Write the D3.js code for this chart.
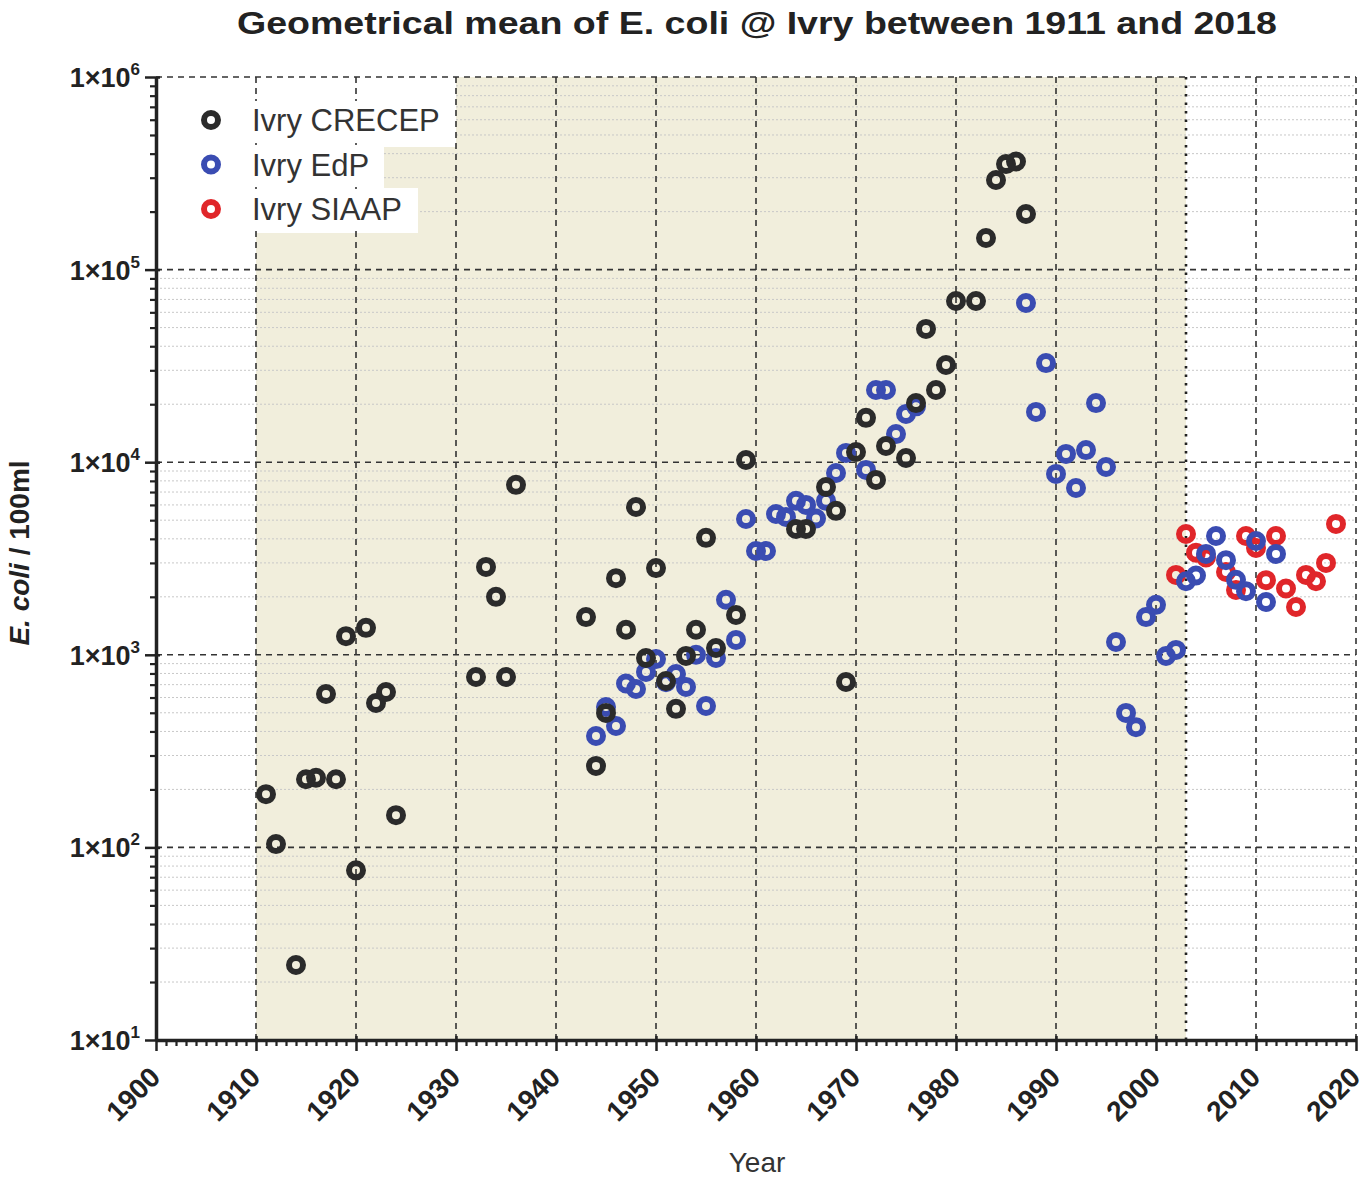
<!DOCTYPE html>
<html>
<head>
<meta charset="utf-8">
<script src="https://cdn.jsdelivr.net/npm/d3@7"></script>
<style>
  body { margin: 0; background: #fff; }
  svg { font-family: "Liberation Sans", Arial, sans-serif; }
</style>
</head>
<body>
<svg id="chart" width="1370" height="1183"></svg>
<script>

// CRECEP series
var crecepYears = [1911,1912,1914,1915,1916,1917,1918,1919,1920,1921,1922,1923,1924,
  1932,1933,1934,1935,1936,1943,1944,1945,1946,1947,1948,1949,1950,1951,1952,1953,1954,
  1955,1956,1958,1959,1964,1965,1967,1968,1969,1970,1971,1972,1973,1975,1976,1977,1978,
  1979,1980,1982,1983,1984,1985,1986,1987];
var crecepValues = [189,104,24.5,226,230,626,226,1250,76,1380,562,641,147,
  767,2860,2000,767,7630,1570,265,499,2500,1350,5850,962,2820,731,524,987,1350,
  4050,1084,1610,10260,4500,4500,7430,5590,722,11300,16990,8090,12130,10510,20270,49200,23700,
  31980,68700,68700,145900,291800,353000,364000,194500];

// EdP series
var edpYears = [1944,1945,1946,1947,1948,1949,1950,1951,1952,1953,1954,1955,1956,1957,1958,
  1959,1960,1961,1962,1963,1964,1965,1966,1967,1968,1969,1971,1972,1973,1974,1975,1976,
  1987,1988,1989,1990,1991,1992,1993,1994,1995,1996,1997,1998,1999,2000,2001,2002,
  2003,2004,2005,2006,2007,2008,2009,2010,2011,2012];
var edpValues = [379,535,427,710,664,815,950,720,795,681,1000,542,962,1930,1195,
  5070,3460,3460,5380,5200,6300,6000,5100,6300,8790,11170,9120,23700,23700,14000,17800,19500,
  67100,18240,32700,8690,11040,7350,11560,20270,9440,1165,499,421,1570,1817,986,1060,
  2410,2580,3340,4140,3100,2450,2140,3900,1880,3340];

// SIAAP series
var siaapYears = [2002,2003,2004,2005,2007,2008,2009,2010,2011,2012,2013,2014,2015,2016,2017,2018];
var siaapValues = [2600,4240,3390,3200,2690,2170,4140,3590,2440,4140,2210,1770,2600,2410,3000,4780];

var xTicks = [1900,1910,1920,1930,1940,1950,1960,1970,1980,1990,2000,2010,2020];
var yTicks = [1e1,1e2,1e3,1e4,1e5,1e6];
var yExponents = [1,2,3,4,5,6];

var seriesNames = ['Ivry CRECEP', 'Ivry EdP', 'Ivry SIAAP'];
var colors = ['#2b2b2b', '#3a4cb2', '#e0262a'];

var margin = {top: 77, right: 14, bottom: 143, left: 156};
var width = 1370 - margin.left - margin.right;
var height = 1183 - margin.top - margin.bottom;

var svg = d3.select('#chart');
var g = svg.append('g').attr('transform', 'translate(' + margin.left + ',' + margin.top + ')');

var x = d3.scaleLinear().domain([1900, 2020]).range([0, width]);
var y = d3.scaleLog().domain([10, 1e6]).range([height, 0]);

// shaded period
g.append('rect')
  .attr('x', x(1910))
  .attr('y', 0)
  .attr('width', x(2003) - x(1910))
  .attr('height', height)
  .attr('fill', '#f1eedc');

// minor horizontal grid
var minorY = [];
for (var e = 1; e < 6; e++)
  for (var m = 2; m <= 9; m++) minorY.push(m * Math.pow(10, e));

g.append('g')
  .selectAll('line')
  .data(minorY)
  .enter()
  .append('line')
  .attr('x1', 0)
  .attr('x2', width)
  .attr('y1', d => y(d))
  .attr('y2', d => y(d))
  .attr('stroke', '#c8c8c8')
  .attr('stroke-width', 1)
  .attr('stroke-dasharray', '2,2');

// legend backgrounds (over shading, under grid)
var legendBg = [
  {x0: 0, x1: 300, y0: 0, y1: 70},
  {x0: 0, x1: 228, y0: 70, y1: 111},
  {x0: 0, x1: 262, y0: 111, y1: 156}
];
g.append('g')
  .selectAll('rect')
  .data(legendBg)
  .enter()
  .append('rect')
  .attr('x', d => d.x0)
  .attr('y', d => d.y0)
  .attr('width', d => d.x1 - d.x0)
  .attr('height', d => d.y1 - d.y0)
  .attr('fill', '#fff');

// major grid
g.append('g')
  .selectAll('line')
  .data(xTicks.slice(1))
  .enter()
  .append('line')
  .attr('x1', d => x(d))
  .attr('x2', d => x(d))
  .attr('y1', 0)
  .attr('y2', height)
  .attr('stroke', '#333')
  .attr('stroke-width', 1.6)
  .attr('stroke-dasharray', '6,5');

g.append('g')
  .selectAll('line')
  .data(yTicks.slice(1))
  .enter()
  .append('line')
  .attr('x1', 0)
  .attr('x2', width)
  .attr('y1', d => y(d))
  .attr('y2', d => y(d))
  .attr('stroke', '#333')
  .attr('stroke-width', 1.6)
  .attr('stroke-dasharray', '6,5');

// 2003 boundary
g.append('line')
  .attr('x1', x(2003))
  .attr('x2', x(2003))
  .attr('y1', 0)
  .attr('y2', height)
  .attr('stroke', '#222')
  .attr('stroke-width', 2.6)
  .attr('stroke-dasharray', '2.5,6');

// legend items
var legend = g.append('g');
seriesNames.forEach((name, i) => {
  legend.append('rect')
    .attr('x', 88)
    .attr('y', 24 + i * 44)
    .attr('width', i == 0 ? 205 : (i == 1 ? 135 : 170))
    .attr('height', 40)
    .attr('fill', '#fff');
  legend.append('circle')
    .attr('cx', 55)
    .attr('cy', 43 + i * 44.5)
    .attr('r', 7)
    .attr('fill', 'none')
    .attr('stroke', colors[i])
    .attr('stroke-width', 6);
  legend.append('text')
    .attr('x', 96)
    .attr('y', 54 + i * 44.5)
    .attr('font-size', 31)
    .attr('fill', '#333')
    .text(name);
});

// points
function drawSeries(years, values, color)
{
  g.append('g')
    .selectAll('circle')
    .data(years.map((yr, i) => ({year: yr, value: values[i]})))
    .enter()
    .append('circle')
    .attr('cx', d => x(d.year))
    .attr('cy', d => y(d.value))
    .attr('r', 7)
    .attr('fill', 'none')
    .attr('stroke', color)
    .attr('stroke-width', 6);
}

drawSeries(siaapYears, siaapValues, colors[2]);
drawSeries(edpYears, edpValues, colors[1]);
drawSeries(crecepYears, crecepValues, colors[0]);

// x axis
var minorYears = d3.range(1900, 2021).filter(d => d % 10 != 0);
var xAxis = g.append('g')
  .attr('transform', 'translate(0,' + (height - 4) + ')')
  .call(d3.axisBottom(x).tickValues(xTicks).tickSize(15).tickSizeOuter(0).tickFormat(''));
xAxis.selectAll('line').attr('stroke', '#222').attr('stroke-width', 2.5);
xAxis.select('.domain').remove();

var xAxisMinor = g.append('g')
  .attr('transform', 'translate(0,' + height + ')')
  .call(d3.axisBottom(x).tickValues(minorYears).tickSize(6).tickSizeOuter(0).tickFormat(''));
xAxisMinor.selectAll('line').attr('stroke', '#222').attr('stroke-width', 2.2);
xAxisMinor.select('.domain').attr('stroke', '#222').attr('stroke-width', 3.5);

g.append('g')
  .selectAll('text')
  .data(xTicks)
  .enter()
  .append('text')
  .attr('transform', d => 'translate(' + (x(d) + 6) + ',' + (height + 39) + ') rotate(-45)')
  .attr('text-anchor', 'end')
  .attr('font-size', 28)
  .attr('font-weight', 'bold')
  .attr('fill', '#222')
  .text(d => d);

// y axis
var yAxis = g.append('g')
  .attr('transform', 'translate(4,0)')
  .call(d3.axisLeft(y).tickValues(yTicks).tickSize(15).tickSizeOuter(0).tickFormat(''));
yAxis.selectAll('line').attr('stroke', '#222').attr('stroke-width', 2.5);
yAxis.select('.domain').remove();

var yAxisMinor = g.append('g')
  .call(d3.axisLeft(y).tickValues(minorY).tickSize(6).tickSizeOuter(0).tickFormat(''));
yAxisMinor.selectAll('line').attr('stroke', '#222').attr('stroke-width', 2.2);
yAxisMinor.select('.domain').attr('stroke', '#222').attr('stroke-width', 3.5);

var yLabels = g.append('g')
  .selectAll('text')
  .data(yTicks)
  .enter()
  .append('text')
  .attr('x', -16)
  .attr('y', d => y(d) + 10)
  .attr('text-anchor', 'end')
  .attr('font-size', 27)
  .attr('font-weight', 'bold')
  .attr('fill', '#222');

yLabels.append('tspan').text('1×10');
yLabels.append('tspan')
  .attr('font-size', 17)
  .attr('dy', -12)
  .text((d, i) => yExponents[i]);

// titles
svg.append('text')
  .attr('x', 757)
  .attr('y', 34)
  .attr('text-anchor', 'middle')
  .attr('font-size', 31)
  .attr('font-weight', 'bold')
  .attr('fill', '#222')
  .attr('textLength', 1040)
  .attr('lengthAdjust', 'spacingAndGlyphs')
  .text('Geometrical mean of E. coli @ Ivry between 1911 and 2018');

svg.append('text')
  .attr('x', 757)
  .attr('y', 1172)
  .attr('text-anchor', 'middle')
  .attr('font-size', 28)
  .attr('fill', '#333')
  .text('Year');

var yTitle = svg.append('text')
  .attr('transform', 'translate(29,553) rotate(-90)')
  .attr('text-anchor', 'middle')
  .attr('font-size', 28)
  .attr('font-weight', 'bold')
  .attr('fill', '#222');
yTitle.append('tspan').attr('font-style', 'italic').text('E. coli');
yTitle.append('tspan').text(' / 100ml');

</script>
</body>
</html>
